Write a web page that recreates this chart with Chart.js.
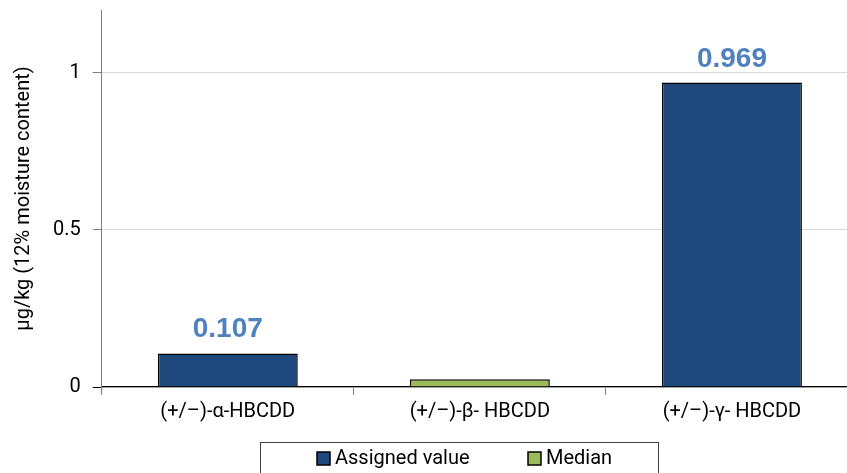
<!DOCTYPE html>
<html>
<head>
<meta charset="utf-8">
<script src="https://cdn.jsdelivr.net/npm/chart.js@4"></script>
<style>
  html, body { margin: 0; padding: 0; background: #fff; overflow: hidden; }
  #wrap { width: 847px; height: 473px; overflow: hidden; position: relative; }
  #c { position: absolute; left: 0; top: 0; }
</style>
</head>
<body>
<div id="wrap"><canvas id="c" width="860" height="473"></canvas></div>
<script>
const categories = ['(+/\u2013)-\u03b1-HBCDD', '(+/\u2013)-\u03b2- HBCDD', '(+/\u2013)-\u03b3- HBCDD'];
const seriesNames = ['Assigned value', 'Median'];
const assignedValues = [0.107, null, 0.969];
const medianValues = [null, 0.025, null];
const assignedLabels = ['0.107', null, '0.969'];
const yTicks = [0, 0.5, 1];
const yMax = 1.2;

const FONT = 'Roboto, "DejaVu Sans", sans-serif';
const COLORS = ['#1F497D', '#9BBB59'];

const valueLabels = {
  id: 'valueLabels',
  afterDatasetsDraw(chart) {
    const ctx = chart.ctx;
    const meta = chart.getDatasetMeta(0);
    ctx.save();
    ctx.font = 'bold 28px "Liberation Sans", Arial, sans-serif';
    ctx.fillStyle = '#4F81BD';
    ctx.textAlign = 'center';
    ctx.textBaseline = 'alphabetic';
    meta.data.forEach((bar, i) => {
      if (assignedLabels[i] == null) return;
      ctx.fillText(assignedLabels[i], bar.x, bar.y - 16);
    });
    ctx.restore();
  }
};

// legend drawn inside a frame that runs off the bottom edge, like the reference
const framedLegend = {
  id: 'framedLegend',
  afterDraw(chart) {
    const ctx = chart.ctx;
    ctx.save();
    ctx.strokeStyle = '#404040';
    ctx.lineWidth = 1;
    ctx.strokeRect(260.5, 442.5, 398, 60);
    ctx.font = '20px ' + FONT;
    ctx.textBaseline = 'middle';
    ctx.textAlign = 'left';
    const items = [{ x: 317, label: seriesNames[0], color: COLORS[0] },
                   { x: 528, label: seriesNames[1], color: COLORS[1] }];
    items.forEach(it => {
      ctx.fillStyle = it.color;
      ctx.fillRect(it.x, 452, 13, 13);
      ctx.strokeStyle = '#000';
      ctx.lineWidth = 1.5;
      ctx.strokeRect(it.x, 452, 13, 13);
      ctx.fillStyle = '#000';
      ctx.fillText(it.label, it.x + 18, 459);
    });
    ctx.restore();
  }
};

new Chart(document.getElementById('c'), {
  type: 'bar',
  data: {
    labels: categories,
    datasets: [
      {
        label: seriesNames[0],
        data: assignedValues,
        backgroundColor: COLORS[0],
        borderColor: '#000000',
        borderWidth: 1.5,
        skipNull: true
      },
      {
        label: seriesNames[1],
        data: medianValues,
        backgroundColor: COLORS[1],
        borderColor: '#000000',
        borderWidth: 1.5,
        skipNull: true
      }
    ]
  },
  options: {
    responsive: false,
    animation: false,
    devicePixelRatio: 1,
    categoryPercentage: 0.555,
    barPercentage: 1,
    layout: { padding: { top: 10, right: 2, left: 12, bottom: 44 } },
    plugins: {
      legend: { display: false },
      tooltip: { enabled: false }
    },
    scales: {
      x: {
        grid: {
          display: true,
          drawOnChartArea: false,
          offset: true,
          tickLength: 8,
          color: '#808080'
        },
        border: { display: true, color: '#000', width: 1.2 },
        ticks: {
          font: { family: FONT, size: 20 },
          color: '#000',
          padding: 5
        }
      },
      y: {
        min: 0,
        max: yMax,
        afterBuildTicks(scale) {
          scale.ticks = yTicks.map(v => ({ value: v }));
        },
        afterFit(scale) {
          scale.paddingTop = 0;
        },
        grid: {
          color: '#D9D9D9',
          tickLength: 9,
          tickColor: ctx => (ctx.tick && ctx.tick.value === 0 ? '#000' : '#808080'),
          lineWidth: 1
        },
        border: { display: true, color: '#808080', width: 1 },
        ticks: {
          font: { family: FONT, size: 20 },
          color: '#000',
          padding: 12,
          callback: v => String(v)
        },
        title: {
          display: true,
          text: '\u03bcg/kg (12% moisture content)',
          font: { family: FONT, size: 20 },
          color: '#000',
          padding: { top: 0, bottom: 5 }
        }
      }
    }
  },
  plugins: [valueLabels, framedLegend]
});
</script>
</body>
</html>
